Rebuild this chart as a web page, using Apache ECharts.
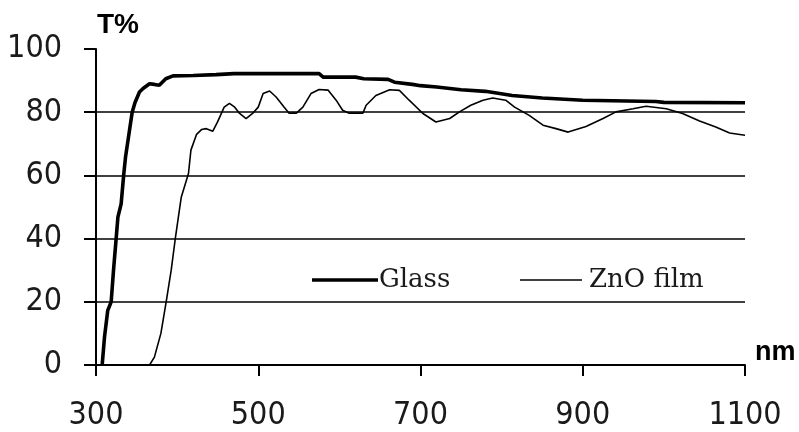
<!DOCTYPE html>
<html>
<head>
<meta charset="utf-8">
<script src="https://cdn.jsdelivr.net/npm/echarts@6/dist/echarts.min.js"></script>
<style>
  html, body { margin: 0; padding: 0; background: #fff; }
  #chart { width: 799px; height: 432px; }
</style>
</head>
<body>
<div id="chart"></div>
<script>
// Transmittance spectra: bare glass substrate and ZnO film on glass
const glassNm = [307.6, 310.5, 314.5, 318.7, 321.6, 325, 327, 331, 334.3, 336.4, 341.3, 344.6, 348, 353.6, 358, 366, 372, 378, 386, 395, 420, 448, 470, 520, 575, 580, 620, 630, 660, 668, 690, 700, 720, 750, 780, 813, 850, 900, 990, 1000, 1100];
const glassT  = [0, 8.9, 17.3, 20, 30, 40.5, 46.8, 51, 60.6, 65.8, 74.3, 80, 83, 86.4, 87.5, 89, 88.8, 88.5, 90.6, 91.5, 91.6, 91.9, 92.2, 92.2, 92.2, 91.1, 91.1, 90.6, 90.4, 89.5, 88.8, 88.4, 88.0, 87.1, 86.6, 85.3, 84.5, 83.8, 83.4, 83.1, 83.0];

const znoNm = [366, 372, 380, 386.5, 392.7, 398, 405, 414, 417, 424, 430, 436, 444, 450, 458, 464.5, 471, 477, 485, 493, 500, 506, 514, 522, 532, 538, 547, 555, 565, 575, 586, 596, 604, 612, 629, 633, 645, 662, 674, 686, 703, 719, 736, 748, 762, 777, 789, 805, 816, 834, 851, 867, 882, 904, 925, 941, 962, 978, 1003, 1023, 1044, 1064, 1081, 1100];
const znoT  = [0, 2.5, 10, 20, 30, 40.5, 53, 60.6, 68, 73, 74.5, 74.8, 74, 77, 81.6, 82.8, 81.6, 79.6, 78, 79.6, 81.6, 85.9, 86.7, 84.8, 81.6, 79.7, 79.7, 81.6, 85.9, 87.2, 87, 83.8, 80.6, 79.7, 79.7, 82.2, 85.3, 87.1, 86.9, 83.8, 79.6, 76.9, 78, 80.1, 82.2, 83.8, 84.5, 83.8, 81.6, 79, 75.9, 74.8, 73.7, 75.5, 78, 80.1, 81.1, 81.9, 81.1, 79.6, 77.2, 75.3, 73.4, 72.7];

const xTicks = { min: 300, max: 1100, step: 200 };
const yTicks = { min: 0, max: 100, step: 20 };

const pairs = (xs, ys) => xs.map((x, i) => [x, ys[i]]);

const tickFont = {
  fontFamily: "'Liberation Sans Narrow', 'DejaVu Sans Condensed', 'Liberation Sans', sans-serif",
  fontSize: 32,
  color: '#1a1a1a'
};

const legendFont = { fontFamily: "'DejaVu Serif', 'Liberation Serif', serif", fontSize: 26, color: '#1a1a1a' };

const chart = echarts.init(document.getElementById('chart'), null, { renderer: 'canvas' });

chart.setOption({
  animation: false,
  backgroundColor: '#ffffff',
  grid: { left: 96, right: 54, top: 49, bottom: 67 },
  xAxis: {
    type: 'value',
    min: xTicks.min, max: xTicks.max, interval: xTicks.step,
    axisLine: { lineStyle: { color: '#000', width: 2 } },
    axisTick: { show: true, length: 11, lineStyle: { color: '#000', width: 2 } },
    splitLine: { show: false },
    axisLabel: Object.assign({ margin: 35, formatter: v => String(v) }, tickFont)
  },
  yAxis: {
    type: 'value',
    min: yTicks.min, max: yTicks.max, interval: yTicks.step,
    axisLine: { show: true, lineStyle: { color: '#000', width: 2 } },
    axisTick: { show: true, length: 12, lineStyle: { color: '#000', width: 2 } },
    splitLine: {
      show: true,
      lineStyle: {
        color: ['rgba(0,0,0,0)', '#000', '#000', '#000', '#000', 'rgba(0,0,0,0)'],
        width: 1.6
      }
    },
    axisLabel: Object.assign({ margin: 34, padding: [0, 0, 6, 0], formatter: v => String(v) }, tickFont)
  },
  legend: [
    {
      data: ['Glass'],
      left: 307, top: 262,
      icon: 'rect', itemWidth: 66, itemHeight: 3.6, itemGap: 0,
      itemStyle: { color: '#000' },
      textStyle: Object.assign({ padding: [0, 0, 0, -4] }, legendFont)
    },
    {
      data: ['ZnO film'],
      left: 515, top: 262,
      icon: 'rect', itemWidth: 62, itemHeight: 1.6, itemGap: 0,
      itemStyle: { color: '#000' },
      textStyle: Object.assign({ padding: [0, 0, 0, 2] }, legendFont)
    }
  ],
  graphic: [
    {
      type: 'text', left: 97, top: 11,
      style: { text: 'T%', fontFamily: "'Liberation Sans', Arial, sans-serif", fontWeight: 'bold', fontSize: 28, fill: '#000' }
    },
    {
      type: 'text', left: 755, top: 339,
      style: { text: 'nm', fontFamily: "'Liberation Sans', Arial, sans-serif", fontWeight: 'bold', fontSize: 27, fill: '#000' }
    }
  ],
  series: [
    {
      name: 'Glass',
      type: 'line',
      data: pairs(glassNm, glassT),
      showSymbol: false,
      symbol: 'none',
      lineStyle: { color: '#000', width: 3.6 },
      itemStyle: { color: '#000' },
      z: 3
    },
    {
      name: 'ZnO film',
      type: 'line',
      data: pairs(znoNm, znoT),
      showSymbol: false,
      symbol: 'none',
      lineStyle: { color: '#000', width: 1.6 },
      itemStyle: { color: '#000' },
      z: 2
    }
  ]
});
</script>
</body>
</html>
